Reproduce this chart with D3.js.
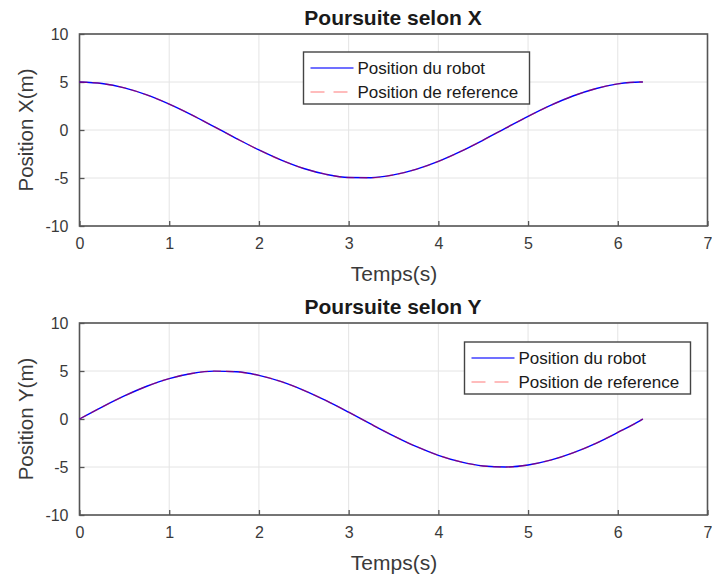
<!DOCTYPE html>
<html>
<head>
<meta charset="utf-8">
<script src="https://cdn.jsdelivr.net/npm/d3@7"></script>
<style>
  body { margin: 0; background: #fff; }
  text { font-family: "Liberation Sans", Arial, sans-serif; }
</style>
</head>
<body>
<div id="chart"></div>
<script>
const width = 712
const height = 583

// time samples (s)
const temps = [0, 0.25, 0.5, 0.75, 1, 1.25, 1.5, 1.75, 2, 2.25, 2.5, 2.75, 3, 3.25, 3.5,
  3.75, 4, 4.25, 4.5, 4.75, 5, 5.25, 5.5, 5.75, 6, 6.25, 6.28]

// X position
const robotX = [5.00, 4.84, 4.39, 3.66, 2.70, 1.58, 0.35, -0.89, -2.08, -3.14, -4.01, -4.62, -4.95,
  -4.97, -4.68, -4.10, -3.27, -2.23, -1.05, 0.19, 1.42, 2.56, 3.54, 4.30, 4.80, 5.00, 5.00]
const refX = [5.00, 4.84, 4.39, 3.66, 2.70, 1.58, 0.35, -0.89, -2.08, -3.14, -4.01, -4.62, -4.95,
  -4.97, -4.68, -4.10, -3.27, -2.23, -1.05, 0.19, 1.42, 2.56, 3.54, 4.30, 4.80, 5.00, 5.00]

// Y position
const robotY = [0, 1.24, 2.40, 3.41, 4.21, 4.74, 4.99, 4.92, 4.55, 3.89, 2.99, 1.91, 0.71,
  -0.54, -1.75, -2.86, -3.78, -4.47, -4.89, -5.00, -4.79, -4.29, -3.53, -2.56, -1.40, -0.17, 0]
const refY = [0, 1.24, 2.40, 3.41, 4.21, 4.74, 4.99, 4.92, 4.55, 3.89, 2.99, 1.91, 0.71,
  -0.54, -1.75, -2.86, -3.78, -4.47, -4.89, -5.00, -4.79, -4.29, -3.53, -2.56, -1.40, -0.17, 0]

const xTicks = [0, 1, 2, 3, 4, 5, 6, 7]
const yTicks = [-10, -5, 0, 5, 10]
const legendLabels = ["Position du robot", "Position de reference"]

let svg = d3.select("#chart")
            .append("svg")
            .attr("width", width)
            .attr("height", height)

function subplot(opts) {
  let x = d3.scaleLinear().domain([0, 7]).range([79.5, 707.5])
  let y = d3.scaleLinear().domain([-10, 10]).range([opts.bottom, opts.top])
  let g = svg.append("g")

  // grid
  g.append("g").selectAll("line").data(xTicks).enter().append("line")
   .attr("x1", d => x(d)).attr("x2", d => x(d))
   .attr("y1", opts.top).attr("y2", opts.bottom)
   .attr("stroke", "#e4e4e4").attr("stroke-width", 1)
  g.append("g").selectAll("line").data(yTicks).enter().append("line")
   .attr("x1", x(0)).attr("x2", x(7))
   .attr("y1", d => y(d)).attr("y2", d => y(d))
   .attr("stroke", "#e4e4e4").attr("stroke-width", 1)

  // axes (ticks inside, MATLAB style), plain hyphen for negatives
  let fmt = d => String(d)
  let xAxis = d3.axisBottom(x).tickValues(xTicks).tickFormat(fmt).tickSize(-5).tickPadding(12)
  let yAxis = d3.axisLeft(y).tickValues(yTicks).tickFormat(fmt).tickSize(-5).tickPadding(11)
  let gx = g.append("g").attr("transform", "translate(0," + opts.bottom + ")").call(xAxis)
  let gy = g.append("g").attr("transform", "translate(" + x(0) + ",0)").call(yAxis)
  ;[gx, gy].forEach(a => {
    a.select(".domain").remove()
    a.selectAll("line").attr("stroke", "#555").attr("stroke-width", 1.3)
    a.selectAll("text").attr("fill", "#3a3a3a").style("font-size", "16px")
  })
  // box
  g.append("rect")
   .attr("x", x(0)).attr("y", opts.top)
   .attr("width", x(7) - x(0)).attr("height", opts.bottom - opts.top)
   .attr("fill", "none").attr("stroke", "#555").attr("stroke-width", 1.6)

  // lines
  let line = d3.line()
               .x((d, i) => x(temps[i]))
               .y(d => y(d))
               .curve(d3.curveMonotoneX)
  g.append("path").datum(opts.robot).attr("d", line)
   .attr("fill", "none").attr("stroke", "#0000ff").attr("stroke-width", 1.4)
  g.append("path").datum(opts.ref).attr("d", line)
   .attr("fill", "none").attr("stroke", "#ff0000").attr("stroke-opacity", 0.45)
   .attr("stroke-width", 1.4).attr("stroke-dasharray", "8,5")

  // titles and labels
  g.append("text").attr("x", 393).attr("y", opts.top - 9)
   .attr("text-anchor", "middle").style("font-size", "21px").style("font-weight", "bold")
   .attr("fill", "#1a1a1a").text(opts.title)
  g.append("text").attr("x", 394).attr("y", opts.bottom + 55)
   .attr("text-anchor", "middle").style("font-size", "21px").attr("fill", "#3a3a3a")
   .text("Temps(s)")
  g.append("text")
   .attr("transform", "translate(33," + ((opts.top + opts.bottom) / 2) + ") rotate(-90)")
   .attr("text-anchor", "middle").style("font-size", "20.5px").attr("fill", "#3a3a3a")
   .text(opts.ylabel)

  // legend
  let lg = g.append("g").attr("transform", "translate(" + opts.lx + "," + opts.ly + ")")
  lg.append("rect").attr("width", 226).attr("height", 52)
    .attr("fill", "#fff").attr("stroke", "#444").attr("stroke-width", 1.4)
  legendLabels.forEach((lab, i) => {
    let yy = 16 + i * 24
    lg.append("line").attr("x1", 7).attr("x2", 50).attr("y1", yy).attr("y2", yy)
      .attr("stroke", i === 0 ? "#0000ff" : "#ff0000")
      .attr("stroke-opacity", i === 0 ? 0.75 : 0.35)
      .attr("stroke-width", 1.6)
      .attr("stroke-dasharray", i === 0 ? null : "14,9")
    lg.append("text").attr("x", 54).attr("y", yy + 6)
      .style("font-size", "17px").attr("fill", "#1a1a1a").text(lab)
  })
}

subplot({ top: 34, bottom: 226, robot: robotX, ref: refX, title: "Poursuite selon X",
  ylabel: "Position X(m)", lx: 303.5, ly: 52 })
subplot({ top: 323, bottom: 515, robot: robotY, ref: refY, title: "Poursuite selon Y",
  ylabel: "Position Y(m)", lx: 464.5, ly: 342 })
</script>
</body>
</html>
